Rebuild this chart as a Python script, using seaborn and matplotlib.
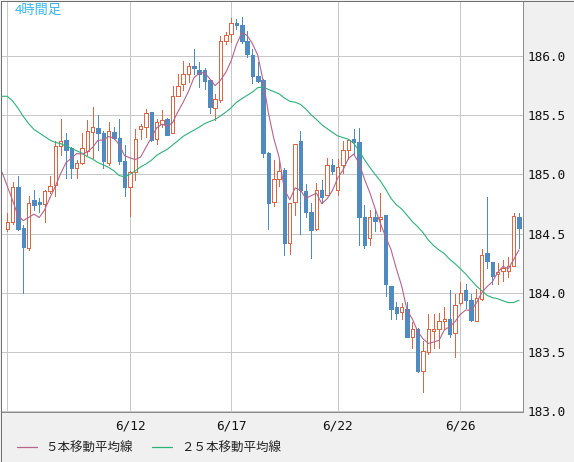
import numpy as np
import pandas as pd
import matplotlib
matplotlib.use("Agg")
import matplotlib.pyplot as plt
from matplotlib.lines import Line2D
from matplotlib.patches import Rectangle
import seaborn as sns

# ---- data (4-hour candles) ----
opens = [184.54, 184.60, 184.89, 184.55, 184.38, 184.78, 184.77, 184.75, 184.86, 184.91,
         185.24, 185.29, 185.22, 185.05, 185.10, 185.20, 185.36, 185.39, 185.35, 185.10,
         185.36, 185.31, 185.11, 184.89, 185.02, 185.38, 185.40, 185.53, 185.30, 185.43,
         185.47, 185.35, 185.66, 185.76, 185.85, 185.92, 185.88, 185.88, 185.80, 185.56,
         185.63, 186.13, 186.19, 186.28, 186.26, 186.13, 186.01, 185.83, 185.80, 185.18,
         184.77, 184.96, 185.04, 184.42, 184.77, 185.28, 184.86, 184.68, 184.54, 184.87,
         184.83, 185.08, 184.87, 185.08, 185.21, 185.30, 185.27, 184.64, 184.46, 184.64,
         184.62, 184.66, 184.06, 183.88, 183.84, 183.86, 183.63, 183.69, 183.34, 183.50,
         183.68, 183.69, 183.76, 183.78, 183.66, 183.91, 184.02, 183.94, 183.76, 183.95,
         184.34, 184.26, 184.16, 184.18, 184.18, 184.23, 184.64]
highs = [184.67, 184.94, 184.99, 184.57, 184.82, 184.87, 184.80, 184.87, 184.99, 185.28,
         185.47, 185.35, 185.23, 185.12, 185.35, 185.46, 185.57, 185.50, 185.37, 185.44,
         185.40, 185.47, 185.25, 185.03, 185.38, 185.43, 185.55, 185.53, 185.47, 185.54,
         185.48, 185.75, 185.85, 185.96, 185.94, 186.06, 185.95, 185.90, 185.80, 185.68,
         186.17, 186.20, 186.32, 186.31, 186.33, 186.21, 186.06, 185.95, 185.81, 185.19,
         185.12, 185.11, 185.05, 184.76, 185.26, 185.37, 184.92, 184.76, 184.93, 184.95,
         185.14, 185.13, 185.13, 185.28, 185.30, 185.38, 185.39, 184.74, 184.70, 184.70,
         184.84, 184.66, 184.06, 183.92, 183.91, 183.92, 183.75, 183.70, 183.59, 183.82,
         183.82, 183.83, 183.88, 184.02, 183.99, 184.09, 184.07, 183.99, 184.03, 184.37,
         184.81, 184.26, 184.25, 184.28, 184.30, 184.67, 184.67]
lows = [184.52, 184.58, 184.53, 184.00, 184.36, 184.70, 184.68, 184.60, 184.84, 184.82,
        185.16, 184.97, 184.97, 184.97, 185.09, 185.16, 185.14, 185.21, 185.05, 185.08,
        185.30, 185.09, 184.82, 184.65, 184.95, 185.30, 185.32, 185.28, 185.26, 185.40,
        185.33, 185.35, 185.66, 185.71, 185.78, 185.85, 185.74, 185.72, 185.52, 185.46,
        185.61, 186.10, 186.12, 186.23, 186.11, 185.99, 185.77, 185.78, 185.15, 184.54,
        184.73, 184.90, 184.32, 184.33, 184.66, 184.50, 184.64, 184.29, 184.53, 184.76,
        184.83, 185.00, 184.83, 185.01, 185.13, 185.17, 184.40, 184.38, 184.40, 184.52,
        184.52, 183.97, 183.78, 183.78, 183.78, 183.63, 183.53, 183.33, 183.16, 183.48,
        183.53, 183.53, 183.69, 183.63, 183.46, 183.90, 183.87, 183.76, 183.76, 183.94,
        184.21, 184.07, 184.07, 184.10, 184.13, 184.23, 184.38]
closes = [184.60, 184.89, 184.54, 184.39, 184.76, 184.74, 184.75, 184.86, 184.90, 185.24,
          185.28, 185.21, 185.05, 185.10, 185.22, 185.37, 185.40, 185.35, 185.11, 185.37,
          185.31, 185.11, 184.89, 185.02, 185.30, 185.41, 185.52, 185.29, 185.44, 185.46,
          185.33, 185.66, 185.75, 185.85, 185.92, 185.90, 185.85, 185.79, 185.57, 185.64,
          186.13, 186.18, 186.28, 186.26, 186.13, 186.02, 185.83, 185.79, 185.18, 184.76,
          184.96, 185.03, 184.42, 184.76, 185.26, 184.87, 184.68, 184.53, 184.87, 184.81,
          185.08, 185.03, 185.06, 185.21, 185.29, 185.27, 184.64, 184.40, 184.64, 184.61,
          184.64, 184.07, 183.86, 183.83, 183.88, 183.63, 183.69, 183.34, 183.51, 183.69,
          183.69, 183.76, 183.78, 183.65, 183.90, 184.00, 183.94, 183.77, 183.96, 184.32,
          184.27, 184.14, 184.17, 184.21, 184.23, 184.65, 184.55]
ma5_lead = [185.02, 184.90, 184.78, 184.65, 184.61]            # candles -1 .. 3
ma25_lead = [185.66, 185.66, 185.62, 185.56, 185.49, 185.43, 185.38, 185.35, 185.32,
             185.29, 185.27, 185.26, 185.24, 185.22, 185.20, 185.18, 185.15, 185.13,
             185.10, 185.08, 185.06, 185.03, 184.99, 184.98, 185.00]  # candles -1 .. 23
tick_candles = [0, 23, 42, 62, 85]
tick_labels = ["", "6/12", "6/17", "6/22", "6/26"]
y_ticks = [183.0, 183.5, 184.0, 184.5, 185.0, 185.5, 186.0]
title = "4時間足"
legend_labels = ["５本移動平均線", "２５本移動平均線"]

# ---- styles ----
UP = "#dc6744"
DOWN = "#4f8bc1"
MA5_C = "#b5648c"
MA25_C = "#2db27a"
GRID = "#c8c8c8"
CJK = ["Noto Sans CJK JP", "DejaVu Sans"]
PX = 0.72  # one pixel in points at 100 dpi

sns.set_theme(style="white")
plt.rcParams["font.family"] = CJK

W, H = 574, 462
fig = plt.figure(figsize=(W / 100, H / 100), dpi=100)
fig.patch.set_facecolor("#f0f0f0")
ax = fig.add_axes([1 / W, (H - 411.5) / H, 522 / W, 410.5 / H])
ax.set_facecolor("white")

n = len(closes)
x = np.arange(n)
df = pd.DataFrame({"x": x, "open": opens, "high": highs, "low": lows, "close": closes})

# moving averages
c = pd.Series(closes)
ma5 = c.rolling(5).mean().to_numpy()
ma25 = c.rolling(25).mean().to_numpy()
ma5_df = pd.DataFrame({"x": np.arange(-1, n),
                       "v": np.concatenate([ma5_lead, ma5[4:]])})
ma25_df = pd.DataFrame({"x": np.arange(-1, n),
                        "v": np.concatenate([ma25_lead, ma25[24:]])})

# grid
for t in y_ticks:
    ax.axhline(t, color=GRID, lw=PX, zorder=0, antialiased=False)
for t in tick_candles:
    ax.axvline(t, color=GRID, lw=PX, zorder=0, antialiased=False)

up = df[df["close"] >= df["open"]]
dn = df[df["close"] < df["open"]]

# wicks
ax.vlines(up["x"], up["low"], up["high"], color=UP, lw=PX, zorder=2, antialiased=False)
ax.vlines(dn["x"], dn["low"], dn["high"], color=DOWN, lw=PX, zorder=2, antialiased=False)
# bodies
bw = 0.64
ax.bar(up["x"], np.maximum(up["close"] - up["open"], 0.012), bottom=up["open"], width=bw,
       facecolor="white", edgecolor=UP, linewidth=PX, zorder=3, antialiased=False)
ax.bar(dn["x"], np.maximum(dn["open"] - dn["close"], 0.012), bottom=dn["close"], width=bw,
       facecolor=DOWN, edgecolor=DOWN, linewidth=PX, zorder=3, antialiased=False)

sns.lineplot(data=ma25_df, x="x", y="v", ax=ax, color=MA25_C, lw=0.8, zorder=4, legend=False)
sns.lineplot(data=ma5_df, x="x", y="v", ax=ax, color=MA5_C, lw=0.8, zorder=5, legend=False)

x0 = (1 - 7.3) / 5.33
x1 = (523 - 7.3) / 5.33
ax.set_xlim(x0, x1)
ax.set_ylim(182.997, 186.465)
ax.set_xlabel("")
ax.set_ylabel("")

ax.set_yticks(y_ticks)
ax.set_yticklabels([f"{v:.1f}" for v in y_ticks])
ax.yaxis.tick_right()
ax.set_xticks(tick_candles)
ax.set_xticklabels(tick_labels)
ax.tick_params(axis="y", length=0, pad=3.5, labelsize=9.2, labelcolor="#111111")
ax.tick_params(axis="x", length=0, pad=6, labelsize=9.2, labelcolor="#111111")
for lab in ax.get_xticklabels() + ax.get_yticklabels():
    lab.set_family(["DejaVu Sans Mono"])

for s in ["left", "top"]:
    ax.spines[s].set_visible(False)
for s in ["right", "bottom"]:
    ax.spines[s].set_color("#8c8c8c")
    ax.spines[s].set_linewidth(PX)

fig.text(15 / W, 1 - 4 / H, title, color="#35b8ee", fontsize=9.5, va="top", ha="left",
         family=CJK)

handles = [Line2D([0], [0], color=MA5_C, lw=0.9), Line2D([0], [0], color=MA25_C, lw=0.9)]
fig.legend(handles, legend_labels, loc="center left", bbox_to_anchor=(16.5 / W, 1 - 448 / H),
           ncol=2, frameon=False, handlelength=1.6, handletextpad=0.72, columnspacing=1.55,
           borderpad=0, borderaxespad=0, prop={"family": CJK, "size": 9},
           labelcolor="#222222")

fig.add_artist(Rectangle((0.5 / W, 0.5 / H), (W - 1) / W, (H - 1) / H,
                         transform=fig.transFigure, fill=False, edgecolor="#707070",
                         linewidth=PX, antialiased=False))

fig.savefig("out.png", dpi=100, facecolor=fig.get_facecolor())
